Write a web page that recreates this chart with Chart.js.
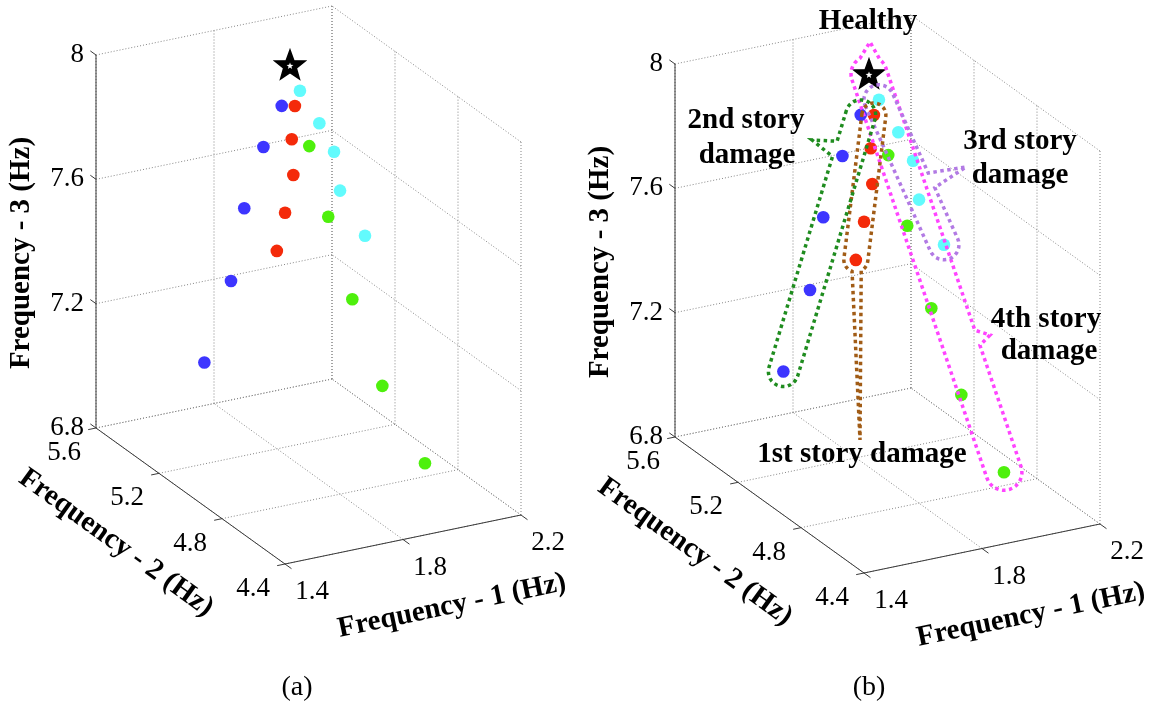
<!DOCTYPE html>
<html>
<head>
<meta charset="utf-8">
<script src="https://cdn.jsdelivr.net/npm/chart.js"></script>
<style>
  body { margin: 0; background: #fff; }
  .panel { position: absolute; top: 0; width: 580px; height: 719px; }
</style>
</head>
<body>
<div class="panel" style="left:0"><canvas id="chart-a" width="580" height="719"></canvas></div>
<div class="panel" style="left:580px"><canvas id="chart-b" width="580" height="719"></canvas></div>
<script>
// axis ticks
const f1Ticks = [1.4, 1.8, 2.2];
const f2Ticks = [4.4, 4.8, 5.2, 5.6];
const f3Ticks = [6.8, 7.2, 7.6, 8.0];

// healthy state [F1, F2, F3]
const healthy = [1.900, 5.305, 7.977];

// 1st story damage (red)
const story1F1 = [1.882, 1.850, 1.834, 1.774, 1.714];
const story1F2 = [5.240, 5.200, 5.160, 5.100, 5.040];
const story1F3 = [7.872, 7.786, 7.689, 7.601, 7.512];

// 2nd story damage (blue)
const story2F1 = [1.848, 1.754, 1.657, 1.580, 1.447];
const story2F2 = [5.260, 5.200, 5.140, 5.080, 5.000];
const story2F3 = [7.872, 7.780, 7.624, 7.427, 7.220];

// 3rd story damage (cyan)
const story3F1 = [1.890, 1.880, 1.870, 1.860, 1.850];
const story3F2 = [5.223, 5.081, 4.969, 4.912, 4.735];
const story3F3 = [7.926, 7.875, 7.826, 7.724, 7.645];

// 4th story damage (green)
const story4F1 = [1.895, 1.890, 1.885, 1.880, 1.875];
const story4F2 = [5.173, 5.043, 4.881, 4.681, 4.401];
const story4F3 = [7.765, 7.586, 7.381, 7.176, 7.030];

// 3d view: screen vectors of the full F1, F2, F3 ranges
const axisA = [236, -49];
const axisB = [-189, -136];
const axisC = [0, -373];

const span = t => t[t.length - 1] - t[0];
const lo = t => t[0];
const hi = t => t[t.length - 1];

function project(view, f1, f2, f3) {
  const u = (f1 - lo(f1Ticks)) / span(f1Ticks);
  const v = (f2 - lo(f2Ticks)) / span(f2Ticks);
  const w = (f3 - lo(f3Ticks)) / span(f3Ticks);
  return {
    x: view.ox + u * axisA[0] + v * axisB[0] + w * axisC[0],
    y: view.oy + u * axisA[1] + v * axisB[1] + w * axisC[1]
  };
}

const series = [
  { f1: story2F1, f2: story2F2, f3: story2F3, color: '#3d35ff' },
  { f1: story1F1, f2: story1F2, f3: story1F3, color: '#f42a0a' },
  { f1: story3F1, f2: story3F2, f3: story3F3, color: '#62fbfd' },
  { f1: story4F1, f2: story4F2, f3: story4F3, color: '#4ef00c' }
];

function lineSet(pts, color, width, dash, order) {
  return {
    data: pts, showLine: true, pointRadius: 0, borderColor: color, borderWidth: width,
    borderDash: dash, tension: 0, fill: false, clip: false, order: order
  };
}

function gridSets(view) {
  const out = [];
  const g = (p, q) => out.push(lineSet([project(view, ...p), project(view, ...q)], '#858585', 1, [1, 2], 6));
  f1Ticks.forEach(t => {
    g([t, hi(f2Ticks), lo(f3Ticks)], [t, hi(f2Ticks), hi(f3Ticks)]);
    g([t, lo(f2Ticks), lo(f3Ticks)], [t, hi(f2Ticks), lo(f3Ticks)]);
  });
  f2Ticks.forEach(t => {
    g([hi(f1Ticks), t, lo(f3Ticks)], [hi(f1Ticks), t, hi(f3Ticks)]);
    g([lo(f1Ticks), t, lo(f3Ticks)], [hi(f1Ticks), t, lo(f3Ticks)]);
  });
  f3Ticks.forEach(t => {
    g([lo(f1Ticks), hi(f2Ticks), t], [hi(f1Ticks), hi(f2Ticks), t]);
    g([hi(f1Ticks), lo(f2Ticks), t], [hi(f1Ticks), hi(f2Ticks), t]);
  });
  return out;
}

function unit(v) { const l = Math.hypot(v[0], v[1]); return [v[0] / l, v[1] / l]; }

function axisSets(view) {
  const out = [];
  const s = (p, q) => out.push(lineSet([p, q], '#3a3a3a', 1, [], 5));
  const o = project(view, lo(f1Ticks), lo(f2Ticks), lo(f3Ticks));
  s(project(view, lo(f1Ticks), hi(f2Ticks), lo(f3Ticks)), project(view, lo(f1Ticks), hi(f2Ticks), hi(f3Ticks)));
  s(o, project(view, lo(f1Ticks), hi(f2Ticks), lo(f3Ticks)));
  s(o, project(view, hi(f1Ticks), lo(f2Ticks), lo(f3Ticks)));
  const tb = unit(axisB), ta = unit(axisA);
  f3Ticks.forEach(t => {
    const p = project(view, lo(f1Ticks), hi(f2Ticks), t);
    s(p, { x: p.x + tb[0] * 7, y: p.y + tb[1] * 7 });
  });
  f2Ticks.forEach(t => {
    const p = project(view, lo(f1Ticks), t, lo(f3Ticks));
    s(p, { x: p.x - ta[0] * 8, y: p.y - ta[1] * 8 });
  });
  f1Ticks.forEach(t => {
    const p = project(view, t, lo(f2Ticks), lo(f3Ticks));
    s(p, { x: p.x - tb[0] * 8, y: p.y - tb[1] * 8 });
  });
  return out;
}

function starImage() {
  const c = document.createElement('canvas');
  c.width = 34; c.height = 34;
  const g = c.getContext('2d');
  const path = (cx, cy, R, r) => {
    g.beginPath();
    for (let i = 0; i < 10; i++) {
      const a = -Math.PI / 2 + i * Math.PI / 5;
      const rad = i % 2 ? r : R;
      g.lineTo(cx + rad * Math.cos(a), cy + rad * Math.sin(a));
    }
    g.closePath();
  };
  path(17, 18, 16, 6.6); g.fillStyle = '#000'; g.fill();
  g.lineWidth = 1.5; g.strokeStyle = '#000'; g.stroke();
  path(17, 18, 3.6, 1.5); g.fillStyle = '#fff'; g.fill();
  return c;
}
const starMark = starImage();

// dotted outline around a projected group of markers
function capsule(p, q, r) {
  const dx = q.x - p.x, dy = q.y - p.y, len = Math.hypot(dx, dy);
  const ux = dx / len, uy = dy / len, nx = -uy, ny = ux;
  const pts = [];
  for (let s = 0; s <= len; s += 8) pts.push({ x: p.x + ux * s + nx * r, y: p.y + uy * s + ny * r });
  const a0 = Math.atan2(ny, nx);
  for (let k = 0; k <= 16; k++) {
    const a = a0 - k * Math.PI / 16;
    pts.push({ x: q.x + r * Math.cos(a), y: q.y + r * Math.sin(a) });
  }
  for (let s = len; s >= 0; s -= 8) pts.push({ x: p.x + ux * s - nx * r, y: p.y + uy * s - ny * r });
  for (let k = 0; k <= 16; k++) {
    const a = a0 - Math.PI - k * Math.PI / 16;
    pts.push({ x: p.x + r * Math.cos(a), y: p.y + r * Math.sin(a) });
  }
  return pts;
}

function addSpike(pts, tip, half) {
  let best = 0, bd = Infinity;
  pts.forEach((p, i) => { const d = Math.hypot(p.x - tip.x, p.y - tip.y); if (d < bd) { bd = d; best = i; } });
  const c = pts[best];
  let a = best, b = best;
  while (a > 1 && Math.hypot(pts[a - 1].x - c.x, pts[a - 1].y - c.y) < half) a--;
  while (b < pts.length - 2 && Math.hypot(pts[b + 1].x - c.x, pts[b + 1].y - c.y) < half) b++;
  return pts.slice(0, a).concat([tip], pts.slice(b + 1));
}

function loopSets(view) {
  const pt = (s, i) => project(view, s.f1[i], s.f2[i], s.f3[i]);
  const star = project(view, ...healthy);
  const [blue, red, cyan, green] = series;
  const n = green.f1.length - 1;
  const close = pts => pts.concat([pts[0]]);
  const dot = (pts, color) => lineSet(close(pts), color, 3.5, [3.5, 3.5], 0);

  const g2 = addSpike(capsule(pt(blue, 0), pt(blue, n), 15), { x: 232, y: 140 }, 6);
  const g1 = addSpike(capsule(pt(red, 0), pt(red, n), 12), { x: 280, y: 440 }, 4);
  const g3 = addSpike(capsule(pt(cyan, 0), pt(cyan, n), 15), { x: 386, y: 167 }, 7);
  let g4 = capsule(star, pt(green, n), 18);
  g4 = addSpike(g4, { x: 290, y: 42 }, 9);
  g4 = addSpike(g4, { x: 410, y: 335 }, 7);
  return [
    dot(g2, '#1f8c1f'), dot(g1, '#a15c16'), dot(g3, '#b27ae4'), dot(g4, '#ff44ff')
  ];
}

function markerSets(view) {
  const out = series.map(s => ({
    data: s.f1.map((v, i) => project(view, s.f1[i], s.f2[i], s.f3[i])),
    showLine: false, pointRadius: 6.3, pointBorderWidth: 0,
    backgroundColor: s.color, borderColor: s.color, clip: false, order: 2
  }));
  out.push({
    data: [project(view, ...healthy)], showLine: false, pointStyle: starMark,
    pointRadius: 17, clip: false, order: 1
  });
  return out;
}

function drawText(ctx, text, x, y, font, angle, align) {
  ctx.save();
  ctx.translate(x, y);
  ctx.rotate(angle || 0);
  ctx.font = font;
  ctx.fillStyle = '#000';
  ctx.textAlign = align || 'center';
  ctx.textBaseline = 'middle';
  ctx.fillText(text, 0, 0);
  ctx.restore();
}

const tickFont = '27px "Liberation Serif"';
const boldFont = 'bold 29px "Liberation Serif"';

const textPlugin = {
  id: 'texts',
  afterDatasetsDraw(chart) {
    const ctx = chart.ctx, cfg = chart.options.plugins.texts, view = cfg.view;
    const X = v => chart.scales.x.getPixelForValue(v);
    const Y = v => chart.scales.y.getPixelForValue(v);
    f3Ticks.forEach(t => {
      const p = project(view, lo(f1Ticks), hi(f2Ticks), t);
      drawText(ctx, String(t === 8 ? '8' : t), X(p.x - 12), Y(p.y), tickFont, 0, 'right');
    });
    f2Ticks.forEach(t => {
      const p = project(view, lo(f1Ticks), t, lo(f3Ticks));
      drawText(ctx, t.toFixed(1), X(p.x - 32), Y(p.y + 25), tickFont);
    });
    f1Ticks.forEach(t => {
      const p = project(view, t, lo(f2Ticks), lo(f3Ticks));
      drawText(ctx, t.toFixed(1), X(p.x + 27), Y(p.y + 28), tickFont);
    });
    drawText(ctx, 'Frequency - 3 (Hz)', X(view.ox - 263), Y(view.oy - 311), boldFont, -Math.PI / 2);
    drawText(ctx, 'Frequency - 2 (Hz)', X(view.ox - 169), Y(view.oy - 21), boldFont, Math.atan2(-axisB[1], -axisB[0]));
    drawText(ctx, 'Frequency - 1 (Hz)', X(view.ox + 167), Y(view.oy + 42), boldFont, Math.atan2(axisA[1], axisA[0]));
    drawText(ctx, cfg.caption, X(cfg.captionX), Y(688), '28px "Liberation Serif"');
    (cfg.notes || []).forEach(n => drawText(ctx, n[0], X(n[1]), Y(n[2]), boldFont));
  }
};

const panels = [
  { id: 'chart-a', view: { ox: 285, oy: 564 }, caption: '(a)', captionX: 297, loops: false, notes: [] },
  { id: 'chart-b', view: { ox: 284, oy: 573 }, caption: '(b)', captionX: 289, loops: true, notes: [
    ['Healthy', 288, 22],
    ['2nd story', 166, 121], ['damage', 167, 156],
    ['3rd story', 440, 142], ['damage', 440, 176],
    ['4th story', 466, 320], ['damage', 469, 352],
    ['1st story damage', 282, 455]
  ] }
];

panels.forEach(p => {
  let datasets = gridSets(p.view).concat(axisSets(p.view), markerSets(p.view));
  if (p.loops) datasets = datasets.concat(loopSets(p.view));
  new Chart(document.getElementById(p.id), {
    type: 'scatter',
    data: { datasets: datasets },
    options: {
      responsive: false,
      animation: false,
      events: [],
      layout: { padding: 0, autoPadding: false },
      plugins: {
        legend: { display: false },
        tooltip: { enabled: false },
        texts: { view: p.view, caption: p.caption, captionX: p.captionX, notes: p.notes }
      },
      scales: {
        x: { type: 'linear', min: 0, max: 580, display: false },
        y: { type: 'linear', min: 0, max: 719, reverse: true, display: false }
      }
    },
    plugins: [textPlugin]
  });
});
</script>
</body>
</html>
